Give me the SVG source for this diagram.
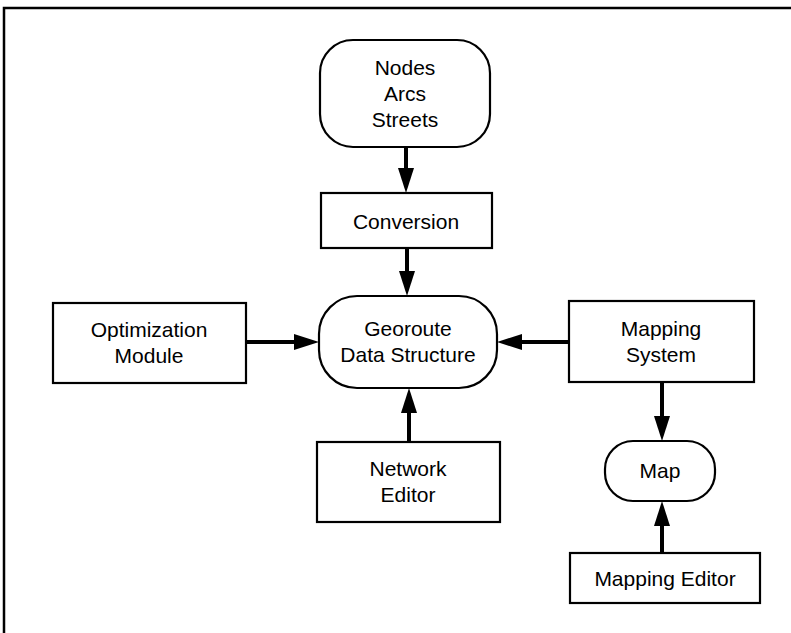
<svg xmlns="http://www.w3.org/2000/svg" width="791" height="633" viewBox="0 0 791 633">
<style>
.box{fill:#fff;stroke:#000;stroke-width:2.2}
.lbl{font-family:"Liberation Sans",Arial,Helvetica,sans-serif;font-size:21px;fill:#000;text-anchor:middle}
.arr{stroke:#000;stroke-width:4;fill:none;marker-end:url(#ah)}
</style>
<defs>
<marker id="ah" markerUnits="userSpaceOnUse" markerWidth="26" markerHeight="18" refX="5" refY="8" orient="auto">
<path d="M0,0 L25,8 L0,16 z" fill="#000"/>
</marker>
</defs>
<rect width="791" height="633" fill="#fff"/>
<path d="M4,633 V8 H791" fill="none" stroke="#000" stroke-width="2.5"/>
<g id="connectors">
<line class="arr" x1="406" y1="147" x2="406" y2="173"/>
<line class="arr" x1="407" y1="248" x2="407" y2="276"/>
<line class="arr" x1="246" y1="342" x2="299" y2="342"/>
<line class="arr" x1="569" y1="342" x2="517" y2="342"/>
<line class="arr" x1="409" y1="442" x2="409" y2="408"/>
<line class="arr" x1="662" y1="382" x2="662" y2="421"/>
<line class="arr" x1="662" y1="553" x2="662" y2="521"/>
</g>
<g id="nodes-arcs-streets">
<rect class="box" x="320" y="40" width="170" height="107" rx="33" ry="33"/>
<text class="lbl" x="405" y="75">Nodes</text>
<text class="lbl" x="405" y="101">Arcs</text>
<text class="lbl" x="405" y="127">Streets</text>
</g>
<g id="conversion">
<rect class="box" x="321" y="193" width="171" height="55"/>
<text class="lbl" x="406" y="229">Conversion</text>
</g>
<g id="georoute">
<rect class="box" x="319" y="296" width="178" height="92" rx="38" ry="38"/>
<text class="lbl" x="408" y="336">Georoute</text>
<text class="lbl" x="408" y="362">Data Structure</text>
</g>
<g id="optimization">
<rect class="box" x="53" y="303" width="193" height="80"/>
<text class="lbl" x="149" y="337">Optimization</text>
<text class="lbl" x="149" y="363">Module</text>
</g>
<g id="mapping-system">
<rect class="box" x="569" y="301" width="185" height="81"/>
<text class="lbl" x="661" y="336">Mapping</text>
<text class="lbl" x="661" y="362">System</text>
</g>
<g id="network-editor">
<rect class="box" x="317" y="442" width="183" height="80"/>
<text class="lbl" x="408" y="476">Network</text>
<text class="lbl" x="408" y="502">Editor</text>
</g>
<g id="map">
<rect class="box" x="605" y="441" width="110" height="60" rx="28" ry="28"/>
<text class="lbl" x="660" y="478">Map</text>
</g>
<g id="mapping-editor">
<rect class="box" x="570" y="553" width="190" height="50"/>
<text class="lbl" x="665" y="586">Mapping Editor</text>
</g>
</svg>
